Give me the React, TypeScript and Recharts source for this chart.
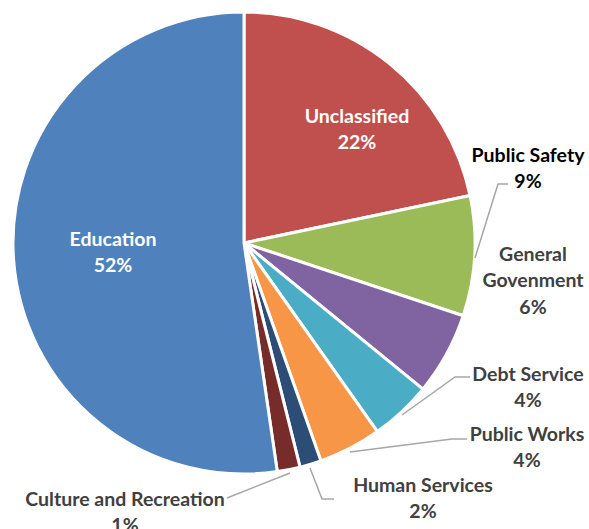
import { PieChart, Pie, Cell } from 'recharts';

const names = [
  'Unclassified',
  'Public Safety',
  'General Govenment',
  'Debt Service',
  'Public Works',
  'Human Services',
  'Culture and Recreation',
  'Education',
];
const values = [21.7, 8.4, 5.8, 4.3, 4.4, 1.5, 1.6, 52.3];
const percents = ['22%', '9%', '6%', '4%', '4%', '2%', '1%', '52%'];

const COLORS = ['#C0504D', '#9BBB59', '#8064A2', '#4BACC6', '#F79646', '#2C4D75', '#772C2A', '#4F81BD'];

const data = names.map((name, i) => ({ name, value: values[i], pct: percents[i] }));

// label placement, offsets from pie centre
const labelSpots: { lines: string[]; x: number; y: number; fill: string; leader?: number[][] }[] = [
  { lines: ['Unclassified'], x: 113, y: -128, fill: '#fff' },
  { lines: ['Public Safety'], x: 284, y: -89, fill: '#000', leader: [[231, 15], [254, -59], [264, -59]] },
  { lines: ['General', 'Govenment'], x: 289, y: 10, fill: '#404040' },
  { lines: ['Debt Service'], x: 284, y: 130, fill: '#404040', leader: [[158, 172], [211, 134], [226, 134]] },
  { lines: ['Public Works'], x: 283, y: 190, fill: '#404040', leader: [[106, 209], [208, 196], [223, 196]] },
  { lines: ['Human Services'], x: 179, y: 241, fill: '#404040', leader: [[66, 225], [78, 256], [90, 256]] },
  { lines: ['Culture and Recreation'], x: -119, y: 255, fill: '#404040', leader: [[46, 230], [-17, 255]] },
  { lines: ['Education'], x: -131, y: -5, fill: '#fff' },
];

const renderLabel = (props: any) => {
  const { cx, cy, index, payload } = props;
  const spot = labelSpots[index];
  const all = [...spot.lines, payload.pct];
  return (
    <g key={`lbl-${index}`}>
      {spot.leader && (
        <polyline
          points={spot.leader.map((p) => `${cx + p[0]},${cy + p[1]}`).join(' ')}
          fill="none"
          stroke="#A6A6A6"
          strokeWidth={1.5}
        />
      )}
      {all.map((t, j) => (
        <text
          key={j}
          x={cx + spot.x}
          y={cy + spot.y + j * 26.5}
          textAnchor="middle"
          dominantBaseline="central"
          fill={spot.fill}
          style={{ fontFamily: 'Lato', fontWeight: 'bold', fontSize: 19.5 }}
        >
          {t}
        </text>
      ))}
    </g>
  );
};

const App = () => {
  return (
    <div style={{ position: 'absolute', left: 0, top: 0 }}>
      <PieChart width={589} height={529} margin={{ top: 0, right: 0, bottom: 0, left: 0 }}>
        <Pie
          data={data}
          dataKey="value"
          cx={244}
          cy={243}
          outerRadius={231}
          startAngle={90}
          endAngle={-270}
          stroke="#fff"
          strokeWidth={3}
          label={renderLabel}
          labelLine={false}
          isAnimationActive={false}
        >
          {data.map((entry, index) => (
            <Cell key={entry.name} fill={COLORS[index]} />
          ))}
        </Pie>
      </PieChart>
    </div>
  );
};

export default App;
